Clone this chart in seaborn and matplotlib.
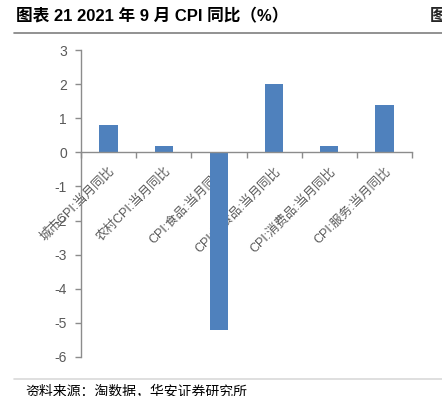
import numpy as np
import pandas as pd
import matplotlib
matplotlib.use('Agg')
import matplotlib.pyplot as plt
import seaborn as sns

# Data
categories = ['城市CPI:当月同比', '农村CPI:当月同比', 'CPI:食品:当月同比',
              'CPI:非食品:当月同比', 'CPI:消费品:当月同比', 'CPI:服务:当月同比']
values = [0.8, 0.2, -5.2, 2.0, 0.2, 1.4]
yticks = [3, 2, 1, 0, -1, -2, -3, -4, -5, -6]

df = pd.DataFrame({'cat': categories, 'val': values})

sns.set_style('white')
plt.rcParams['font.family'] = ['Liberation Sans', 'Noto Sans CJK SC', 'DejaVu Sans']

fig = plt.figure(figsize=(4.42, 3.96), dpi=100)
ax = fig.add_axes([81 / 442, 1 - 357 / 396, (412 - 81) / 442, (357 - 50) / 396])

sns.barplot(data=df, x='cat', y='val', color='#4F81BD', width=0.33,
            saturation=1, ax=ax, edgecolor='none')

axis_col = '#8c8c8c'
ax.set_xlim(-0.5, len(categories) - 0.5)
ax.set_ylim(-6, 3)
ax.set_yticks(yticks)
ax.set_yticklabels([str(t) for t in yticks], fontsize=10, color='#595959')
ax.tick_params(axis='y', length=4, width=1, color=axis_col, direction='out', left=True, pad=6)

# x-axis at zero, category boundary ticks
ax.spines['bottom'].set_position(('data', 0))
for s in ['top', 'right']:
    ax.spines[s].set_visible(False)
for s in ['left', 'bottom']:
    ax.spines[s].set_color(axis_col)
    ax.spines[s].set_linewidth(1)
ax.set_xticks(np.arange(len(categories)))
ax.set_xticklabels(categories, rotation=45, ha='right', va='top',
                   rotation_mode='anchor', fontsize=9, color='#595959')
ax.tick_params(axis='x', which='major', length=0, pad=9)
ax.set_xticks(np.arange(len(categories) + 1) - 0.5, minor=True)
ax.tick_params(axis='x', which='minor', length=4, width=1, color=axis_col,
               direction='out', bottom=True)
ax.set_xlabel('')
ax.set_ylabel('')

# Header and footer
fig.text(16 / 442, 1 - 16 / 396, '图表 21 2021 年 9 月 CPI 同比（%）', fontsize=12,
         fontweight='bold', va='center', ha='left', color='black',
         family=['Liberation Sans', 'Noto Sans CJK SC'])
fig.text(430 / 442, 1 - 16 / 396, '图', fontsize=12, fontweight='bold',
         va='center', ha='left', family=['Noto Sans CJK SC'])
fig.add_artist(plt.Line2D([14 / 442, 1], [1 - 33 / 396] * 2, color='#7f7f7f', lw=1.2))
fig.add_artist(plt.Line2D([14 / 442, 1], [1 - 379 / 396] * 2, color='#d9d9d9', lw=1.2))
fig.text(25 / 442, 1 - 391 / 396, '资料来源：淘数据，华安证券研究所', fontsize=10,
         va='center', ha='left', color='black', family=['Noto Sans CJK SC'])

fig.savefig('out.png', dpi=100)
